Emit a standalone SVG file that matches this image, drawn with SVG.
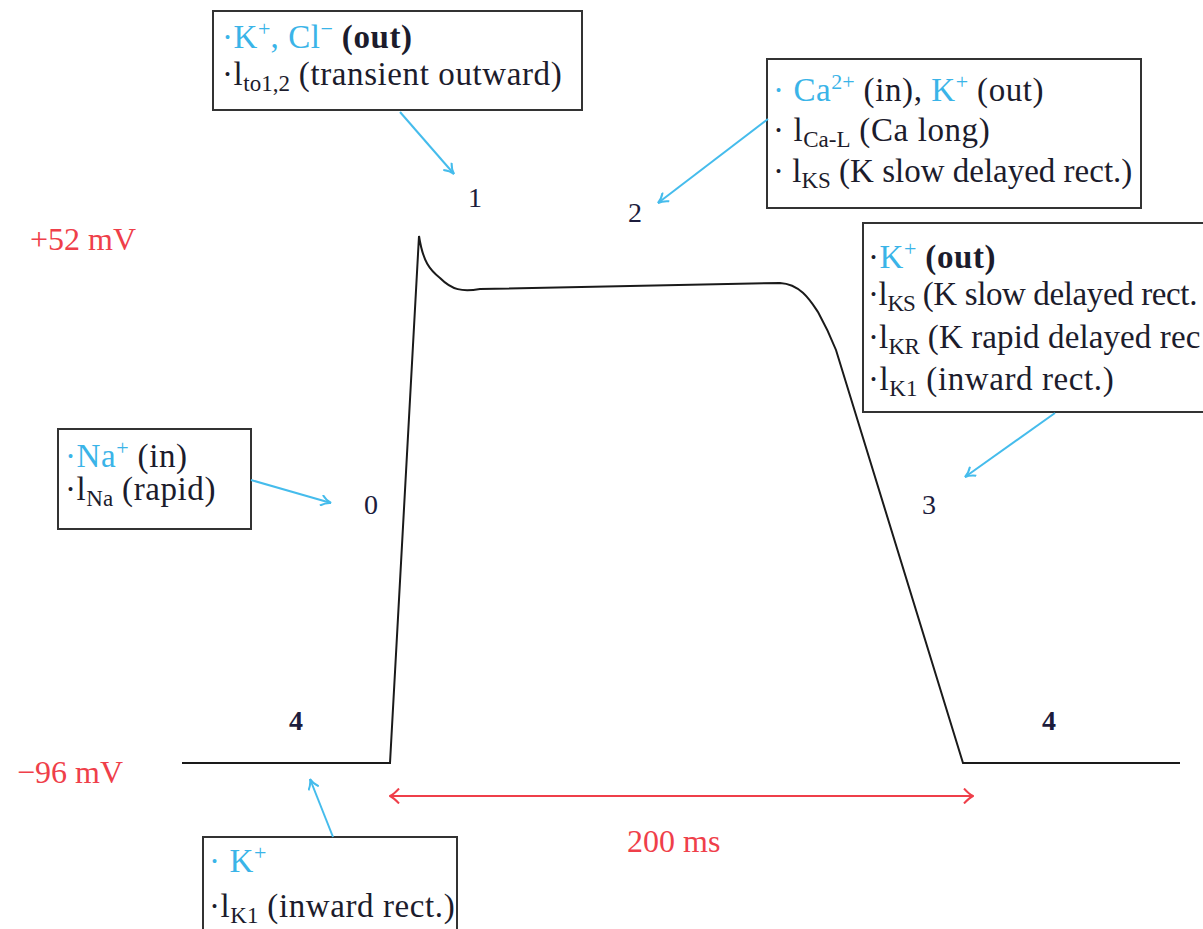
<svg xmlns="http://www.w3.org/2000/svg" width="1203" height="929" viewBox="0 0 1203 929">
<defs>
<style>
.t{font-family:"Liberation Serif","Times New Roman",serif;font-size:33px;letter-spacing:0.6px;fill:#1c1c2c}
.b{fill:#3ab4e8}
.sub{font-size:23px;letter-spacing:0}
.sup{font-size:22px;letter-spacing:0}
.box{fill:#fff;stroke:#333;stroke-width:2}
.lbl{font-family:"Liberation Serif","Times New Roman",serif;font-size:28px;fill:#1c1c3c}
.red{font-family:"Liberation Serif","Times New Roman",serif;font-size:32px;fill:#ef3f4a}
.ba{fill:none;stroke:#45bcec;stroke-width:2;marker-end:url(#bh)}
</style>
<marker id="bh" viewBox="0 0 12 12" refX="11" refY="6" markerWidth="12" markerHeight="12" markerUnits="userSpaceOnUse" orient="auto"><path d="M1,0.5 Q6,5 11,6 Q6,7 1,11.5" fill="none" stroke="#45bcec" stroke-width="2"/></marker>
<marker id="rh" viewBox="0 0 12 16" refX="11" refY="8" markerWidth="12" markerHeight="16" markerUnits="userSpaceOnUse" orient="auto-start-reverse"><path d="M2,0.5 Q7,6 11,8 Q7,10 2,15.5" fill="none" stroke="#ef3f4a" stroke-width="2"/></marker>
</defs>
<rect width="1203" height="929" fill="#fff"/>

<g id="trace">
<path d="M182,763 L390,763 L419,236 C423,262 430,270 440,278 C452,290 462,292 480,289 L780,283 C800,284 810,300 818,312 C828,330 832,340 836,350 L963,763 L1180,763" fill="none" stroke="#1a1a1a" stroke-width="2"/>
</g>

<g id="axis-labels">
<text class="red" x="30" y="250">+52 mV</text>
<text class="red" x="17" y="783">−96 mV</text>
<text class="red" x="627" y="852">200 ms</text>
</g>

<g id="phase-labels">
<text class="lbl" x="468" y="207">1</text>
<text class="lbl" x="628" y="222">2</text>
<text class="lbl" x="364" y="514">0</text>
<text class="lbl" x="922" y="514">3</text>
<text class="lbl" x="289" y="730" font-weight="bold">4</text>
<text class="lbl" x="1042" y="730" font-weight="bold">4</text>
</g>

<g id="box-phase1">
<rect class="box" x="213" y="11" width="369" height="99"/>
<text class="t" x="222" y="48"><tspan class="b">·K<tspan class="sup" dy="-12">+</tspan><tspan dy="12">, Cl</tspan><tspan class="sup" dy="-12">−</tspan></tspan><tspan dy="12" font-weight="bold"> (out)</tspan></text>
<text class="t" x="222" y="85">·l<tspan class="sub" dy="6">to1,2</tspan><tspan dy="-6"> (transient outward)</tspan></text>
</g>

<g id="box-phase2">
<rect class="box" x="767" y="59" width="374" height="149"/>
<text class="t" x="773" y="101"><tspan class="b">· Ca<tspan class="sup" dy="-12">2+</tspan></tspan><tspan dy="12"> (in), </tspan><tspan class="b">K<tspan class="sup" dy="-12">+</tspan></tspan><tspan dy="12"> (out)</tspan></text>
<text class="t" x="773" y="141">· l<tspan class="sub" dy="6">Ca-L</tspan><tspan dy="-6"> (Ca long)</tspan></text>
<text class="t" x="773" y="182" style="letter-spacing:0">· l<tspan class="sub" dy="6">KS</tspan><tspan dy="-6"> (K slow delayed rect.)</tspan></text>
</g>

<g id="box-phase3">
<rect class="box" x="863" y="223" width="360" height="189"/>
<text class="t" x="868" y="268">·<tspan class="b">K<tspan class="sup" dy="-12">+</tspan></tspan><tspan dy="12" font-weight="bold"> (out)</tspan></text>
<text class="t" x="868" y="305" textLength="330" lengthAdjust="spacing">·l<tspan class="sub" dy="6">KS</tspan><tspan dy="-6"> (K slow delayed rect.</tspan></text>
<text class="t" x="868" y="348" textLength="333" lengthAdjust="spacing">·l<tspan class="sub" dy="6">KR</tspan><tspan dy="-6"> (K rapid delayed rec</tspan></text>
<text class="t" x="868" y="390">·l<tspan class="sub" dy="6">K1</tspan><tspan dy="-6"> (inward rect.)</tspan></text>
</g>

<g id="box-phase0">
<rect class="box" x="58" y="429" width="193" height="100"/>
<text class="t" x="65" y="467"><tspan class="b">·Na<tspan class="sup" dy="-12">+</tspan></tspan><tspan dy="12"> (in)</tspan></text>
<text class="t" x="65" y="500">·l<tspan class="sub" dy="6">Na</tspan><tspan dy="-6"> (rapid)</tspan></text>
</g>

<g id="box-phase4">
<rect class="box" x="203" y="837" width="254" height="110"/>
<text class="t" x="209" y="872"><tspan class="b">· K<tspan class="sup" dy="-12">+</tspan></tspan></text>
<text class="t" x="209" y="917">·l<tspan class="sub" dy="6">K1</tspan><tspan dy="-6"> (inward rect.)</tspan></text>
</g>

<g id="connectors">
<line class="ba" x1="400" y1="112" x2="454" y2="174"/>
<line class="ba" x1="768" y1="119" x2="658" y2="203"/>
<line class="ba" x1="1055" y1="413" x2="965" y2="477"/>
<line class="ba" x1="251" y1="480" x2="331" y2="503"/>
<line class="ba" x1="333" y1="837" x2="310" y2="779"/>
<line x1="390" y1="796" x2="973" y2="796" stroke="#ef3f4a" stroke-width="2" marker-start="url(#rh)" marker-end="url(#rh)"/>
</g>
</svg>
